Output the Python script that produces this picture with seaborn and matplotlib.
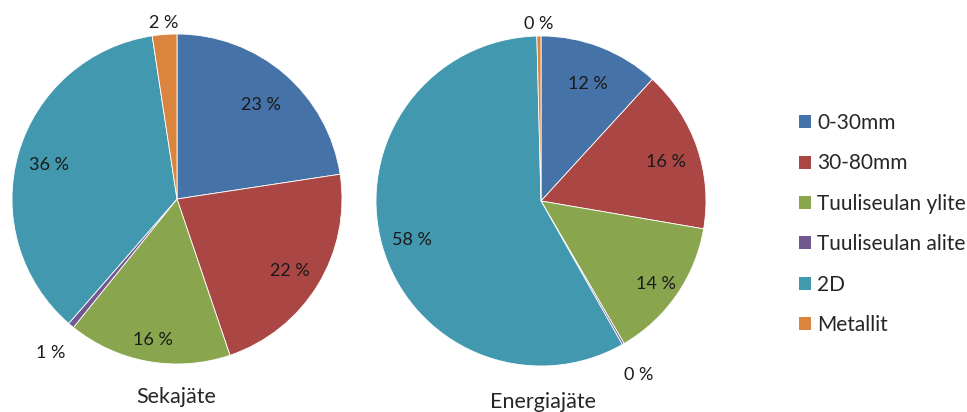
import matplotlib
matplotlib.use("Agg")
import matplotlib.pyplot as plt
from matplotlib.patches import Patch
import seaborn as sns
import numpy as np

categories = ["0-30mm", "30-80mm", "Tuuliseulan ylite", "Tuuliseulan alite", "2D", "Metallit"]
sekajate = [22.6, 22.2, 16.0, 0.6, 36.2, 2.4]
energiajate = [11.8, 15.9, 13.9, 0.2, 57.8, 0.4]
titles = ["Sekajäte", "Energiajäte"]
colors = ["#4572A7", "#AA4643", "#89A54E", "#71588F", "#4198AF", "#DB843D"]

sns.set_theme(style="white")
plt.rcParams["font.family"] = ["Lato", "DejaVu Sans"]

W, H = 967, 412
fig = plt.figure(figsize=(W / 100, H / 100), dpi=100)
fig.patch.set_facecolor("white")

# pie centers (px) and radius
centers = [(177, 199), (541, 201)]
R = 165
title_pos = [(176, 397), (543, 402)]
# radial distance of labels for each category (style)
label_r = [0.78, 0.80, 0.85, 1.19, 0.81, 1.09]

for data, (cx, cy), title, (tx, ty) in zip([sekajate, energiajate], centers, titles, title_pos):
    ax = fig.add_axes([(cx - R) / W, (H - cy - R) / H, 2 * R / W, 2 * R / H])
    wedges, _ = ax.pie(data, colors=colors, startangle=90, counterclock=False,
                       wedgeprops=dict(edgecolor="white", linewidth=0.6))
    ax.set_xlim(-1, 1)
    ax.set_ylim(-1, 1)
    ax.set_aspect("equal")
    ax.axis("off")
    for w, v, r in zip(wedges, data, label_r):
        ang = np.deg2rad((w.theta1 + w.theta2) / 2)
        ax.text(r * np.cos(ang), r * np.sin(ang) - 0.02, f"{round(v):d} %",
                ha="center", va="center", fontsize=13, color="#1a1a1a")
    fig.text(tx / W, 1 - ty / H, title, ha="center", va="center",
             fontsize=15.5, color="#262626")

handles = [Patch(facecolor=c, edgecolor="none") for c in colors]
fig.legend(handles, categories, loc="center left", bbox_to_anchor=(799 / W, 1 - 224 / H),
           frameon=False, fontsize=15, labelspacing=0.98, handlelength=0.58,
           handleheight=0.58, handletextpad=0.3, labelcolor="#262626",
           borderpad=0, borderaxespad=0)

fig.savefig("out.png", dpi=100, facecolor="white")
